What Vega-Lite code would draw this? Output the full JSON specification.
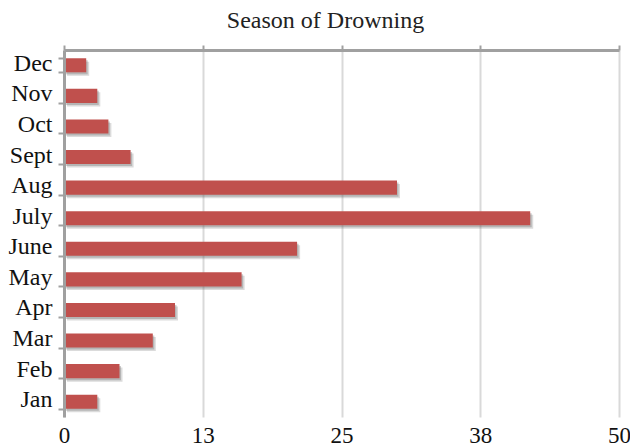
{
  "$schema": "https://vega.github.io/schema/vega-lite/v6.json",
  "width": 555,
  "height": 367,
  "autosize": "none",
  "padding": {"left": 64, "top": 50, "right": 11, "bottom": 31},
  "background": "white",
  "title": {
    "text": "Season of Drowning",
    "font": "Liberation Serif",
    "fontSize": 24,
    "fontWeight": "normal",
    "color": "#222222",
    "anchor": "middle",
    "dx": -16,
    "offset": 5
  },
  "config": {
    "view": {"stroke": null},
    "axis": {"labelFont": "Liberation Serif", "labelColor": "#111111", "title": null}
  },
  "data": {
    "values": [
      {"month": "Jan", "count": 3},
      {"month": "Feb", "count": 5},
      {"month": "Mar", "count": 8},
      {"month": "Apr", "count": 10},
      {"month": "May", "count": 16},
      {"month": "June", "count": 21},
      {"month": "July", "count": 42},
      {"month": "Aug", "count": 30},
      {"month": "Sept", "count": 6},
      {"month": "Oct", "count": 4},
      {"month": "Nov", "count": 3},
      {"month": "Dec", "count": 2}
    ]
  },
  "encoding": {
    "y": {
      "field": "month",
      "type": "nominal",
      "sort": ["Dec", "Nov", "Oct", "Sept", "Aug", "July", "June", "May", "Apr", "Mar", "Feb", "Jan"],
      "scale": {"paddingInner": 0.54, "paddingOuter": 0.27},
      "axis": {
        "zindex": 1,
        "domainColor": "#a0a0a0",
        "domainWidth": 3,
        "tickBand": "extent",
        "tickColor": "#a0a0a0",
        "tickWidth": 2,
        "tickSize": 6,
        "labelFontSize": 24,
        "labelPadding": 6,
        "labelBaseline": "middle",
        "labelOffset": -2,
        "grid": false
      }
    }
  },
  "layer": [
    {
      "mark": {"type": "bar", "color": "#6f6f6f", "opacity": 0.25, "xOffset": 3, "yOffset": 3.5},
      "encoding": {
        "x": {
          "field": "count",
          "type": "quantitative",
          "scale": {"domain": [0, 50], "nice": false},
          "axis": {
            "orient": "bottom",
            "values": [0, 12.5, 25, 37.5, 50],
            "format": ".0f",
            "domain": false,
            "ticks": false,
            "grid": false,
            "labelFlush": false,
            "labelFontSize": 23,
            "labelPadding": 7
          }
        }
      }
    },
    {
      "mark": {"type": "bar", "color": "#6f6f6f", "opacity": 0.35, "xOffset": 1.5, "yOffset": 2},
      "encoding": {"x": {"field": "count", "type": "quantitative", "axis": null}}
    },
    {
      "mark": {"type": "bar", "color": "#c0504d"},
      "encoding": {
        "x": {
          "field": "count",
          "type": "quantitative",
          "axis": {
            "orient": "top",
            "values": [0, 12.5, 25, 37.5, 50],
            "labels": false,
            "domainColor": "#a0a0a0",
            "domainWidth": 3,
            "tickColor": "#a0a0a0",
            "tickWidth": 2,
            "tickSize": 5,
            "grid": true,
            "gridColor": "#d9d9d9",
            "gridWidth": 2
          }
        }
      }
    }
  ],
  "resolve": {"axis": {"x": "independent"}}
}
